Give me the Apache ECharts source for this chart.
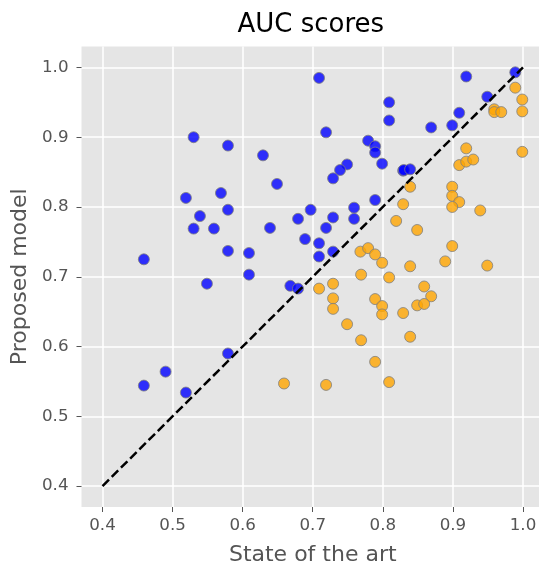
<!DOCTYPE html>
<html>
<head>
<meta charset="utf-8">
<script src="https://cdn.jsdelivr.net/npm/echarts@6/dist/echarts.min.js"></script>
<style>html,body{margin:0;padding:0;background:#fff;}#c{width:539px;height:562px;}</style>
</head>
<body>
<div id="c"></div>
<script>
// Blue points: [state of the art, proposed model]
const blueSeries = [
  [0.530,0.900],[0.579,0.888],[0.629,0.874],[0.649,0.833],[0.519,0.813],[0.569,0.820],
  [0.579,0.796],[0.539,0.787],[0.530,0.769],[0.559,0.769],[0.639,0.770],[0.679,0.783],
  [0.689,0.754],[0.697,0.796],[0.579,0.737],[0.609,0.734],[0.459,0.725],[0.549,0.690],
  [0.609,0.703],[0.668,0.687],[0.679,0.683],[0.579,0.590],[0.490,0.564],[0.459,0.544],
  [0.519,0.534],[0.709,0.985],[0.919,0.987],[0.989,0.993],[0.949,0.958],[0.809,0.950],
  [0.809,0.924],[0.909,0.935],[0.899,0.917],[0.869,0.914],[0.719,0.907],[0.779,0.895],
  [0.789,0.887],[0.789,0.878],[0.799,0.862],[0.749,0.861],[0.739,0.853],[0.729,0.841],
  [0.829,0.852],[0.830,0.853],[0.839,0.854],[0.789,0.810],[0.759,0.799],[0.759,0.783],
  [0.729,0.785],[0.719,0.770],[0.709,0.748],[0.709,0.729],[0.729,0.736]
];
// Orange points
const orangeSeries = [
  [0.989,0.971],[0.999,0.954],[0.999,0.937],[0.959,0.940],[0.959,0.936],[0.969,0.936],
  [0.999,0.879],[0.919,0.884],[0.909,0.860],[0.919,0.865],[0.929,0.868],[0.839,0.829],
  [0.899,0.829],[0.899,0.816],[0.909,0.807],[0.899,0.800],[0.829,0.804],[0.939,0.795],
  [0.819,0.780],[0.849,0.767],[0.899,0.744],[0.768,0.736],[0.779,0.741],[0.789,0.732],
  [0.799,0.720],[0.839,0.715],[0.889,0.722],[0.949,0.716],[0.769,0.703],[0.809,0.699],
  [0.729,0.690],[0.709,0.683],[0.859,0.686],[0.869,0.672],[0.729,0.669],[0.789,0.668],
  [0.799,0.658],[0.799,0.646],[0.729,0.654],[0.849,0.659],[0.859,0.661],[0.829,0.648],
  [0.749,0.632],[0.769,0.609],[0.839,0.614],[0.789,0.578],[0.719,0.545],[0.809,0.549],
  [0.659,0.547]
];
const diagonal = [[0.4,0.4],[1.0,1.0]];
const xTicks = [0.4,0.5,0.6,0.7,0.8,0.9,1.0];
const yTicks = [0.4,0.5,0.6,0.7,0.8,0.9,1.0];

const FONT = 'DejaVu Sans';
const gridLeft = 81.5, gridTop = 46.5, gridW = 462.5, gridH = 460.5;

const chart = echarts.init(document.getElementById('c'), null, {renderer:'canvas'});
function axisCommon(ticks, isX){
  return {
    type:'value', min:0.37, max:1.03,
    axisLine:{show:false},
    axisTick:{show:true, length:5, customValues:ticks, lineStyle:{color:'#555555', width:1}},
    axisLabel:{customValues:ticks, formatter:v=>v.toFixed(1), color:'#555555', fontSize:16.7,
               fontFamily:FONT, margin: isX ? 10 : 13},
    splitLine:{show:true, lineStyle:{color:'#ffffff', width:1.5}},
    nameTextStyle:{color:'#555555', fontSize:22, fontFamily:FONT},
    nameLocation:'middle'
  };
}
const xAxis = Object.assign(axisCommon(xTicks,true), {name:'State of the art', nameGap:37});
const yAxis = Object.assign(axisCommon(yTicks,false), {name:'Proposed model', nameGap:48});

chart.setOption({
  animation:false,
  backgroundColor:'#ffffff',
  grid:{left:gridLeft, top:gridTop, width:gridW, height:gridH, show:true,
        backgroundColor:'#E5E5E5', borderWidth:0, containLabel:false, outerBoundsMode:'none'},
  graphic:[{type:'text', x: gridLeft + (539 - gridLeft + 5)/2 - 2, y:25,
    style:{text:'AUC scores', fontSize:26, fontFamily:FONT, fill:'#000000', align:'center', verticalAlign:'middle'}}],
  xAxis: xAxis,
  yAxis: yAxis,
  series:[
    {type:'scatter', data:blueSeries, symbolSize:11, z:2,
     itemStyle:{color:'rgba(0,0,255,0.8)', borderColor:'rgba(128,128,128,0.8)', borderWidth:1, opacity:1}},
    {type:'scatter', data:orangeSeries, symbolSize:11, z:3,
     itemStyle:{color:'rgba(255,165,0,0.8)', borderColor:'rgba(128,128,128,0.8)', borderWidth:1, opacity:1}},
    {type:'line', data:diagonal, z:4, symbol:'none',
     lineStyle:{color:'#000000', width:2.5, type:[9.1,3.9]}}
  ]
});
</script>
</body>
</html>
